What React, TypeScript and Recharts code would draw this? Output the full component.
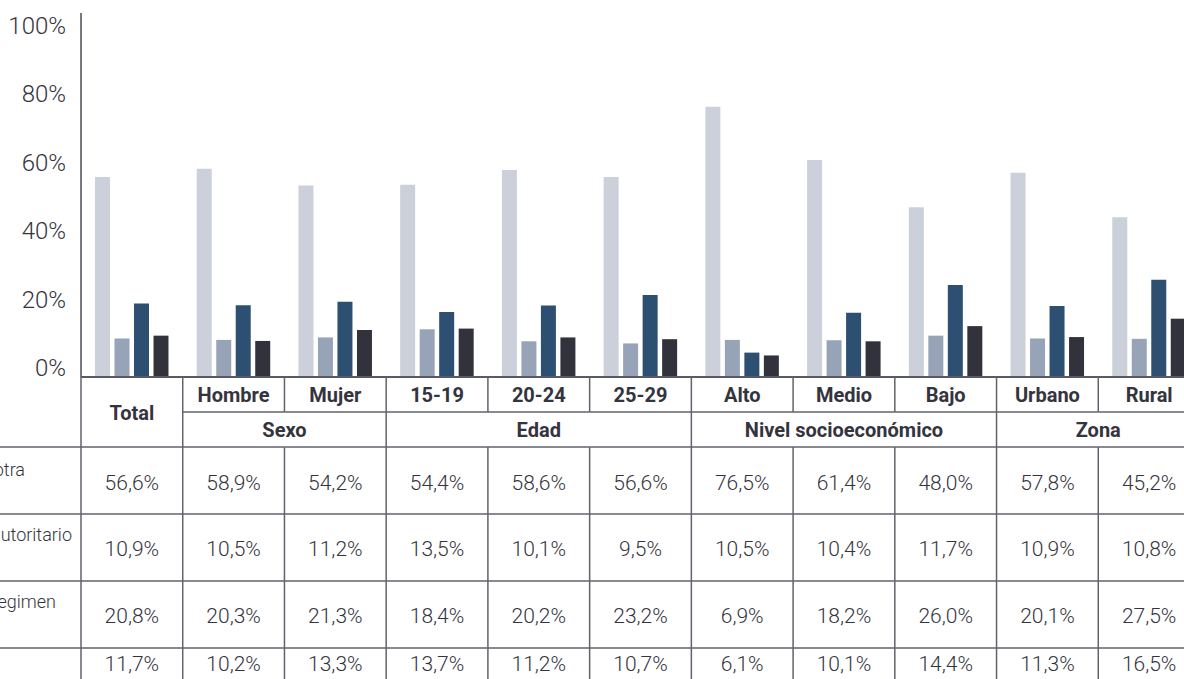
import { BarChart, Bar, XAxis, YAxis } from "recharts";

const categories = ["Total", "Hombre", "Mujer", "15-19", "20-24", "25-29", "Alto", "Medio", "Bajo", "Urbano", "Rural"];
const groups = ["", "Sexo", "Sexo", "Edad", "Edad", "Edad", "Nivel socioeconómico", "Nivel socioeconómico", "Nivel socioeconómico", "Zona", "Zona"];

const rowLabels = [
  "La democracia es preferible a cualquier otra",
  "En algunas circunstancias, un gobierno autoritario",
  "A la gente como uno, nos da lo mismo un regimen",
  "",
];

const democracia = [56.6, 58.9, 54.2, 54.4, 58.6, 56.6, 76.5, 61.4, 48.0, 57.8, 45.2];
const autoritario = [10.9, 10.5, 11.2, 13.5, 10.1, 9.5, 10.5, 10.4, 11.7, 10.9, 10.8];
const daLoMismo = [20.8, 20.3, 21.3, 18.4, 20.2, 23.2, 6.9, 18.2, 26.0, 20.1, 27.5];
const nsnr = [11.7, 10.2, 13.3, 13.7, 11.2, 10.7, 6.1, 10.1, 14.4, 11.3, 16.5];

const yTicks = [0, 20, 40, 60, 80, 100];

const series = [
  { key: "democracia", values: democracia, color: "#cbd0da" },
  { key: "autoritario", values: autoritario, color: "#97a3b6" },
  { key: "daLoMismo", values: daLoMismo, color: "#2d4f71" },
  { key: "nsnr", values: nsnr, color: "#32323c" },
];

const data = categories.map((name, i) => ({
  name,
  democracia: democracia[i],
  autoritario: autoritario[i],
  daLoMismo: daLoMismo[i],
  nsnr: nsnr[i],
}));

const CHART_W = 1200;
const CHART_H = 700;
const Y_W = 81;
const BAND = (CHART_W - Y_W) / categories.length;
const LINE = "#62626c";
const TEXT = "#34343e";
const FONT = "Roboto, sans-serif";

const fmt = (v: number) => v.toFixed(1).replace(".", ",") + "%";

// y offsets (from the x axis line) of the table rows
const ROW1 = 35;
const ROW2 = 70;
const dataRowTops = [70, 137, 204, 271];
const valueCenters = [106, 172, 239, 287];
const labelCenters = [92, 157, 224];
const labelEnds = [25, 72, 56];

function TableColumn(props: any) {
  const { x, y, payload } = props;
  const i: number = payload.index;
  const left = x - BAND / 2;
  const right = x + BAND / 2;
  const groupStart = i === 0 || groups[i] !== groups[i - 1];
  const span = groups.filter((g) => g === groups[i]).length;

  return (
    <g>
      {/* vertical borders */}
      <line x1={left} y1={y} x2={left} y2={y + ROW1} stroke={LINE} strokeWidth={1.5} />
      {groupStart && <line x1={left} y1={y + ROW1} x2={left} y2={y + ROW2} stroke={LINE} strokeWidth={1.5} />}
      <line x1={left} y1={y + ROW2} x2={left} y2={CHART_H} stroke={LINE} strokeWidth={1.5} />

      {/* horizontal borders */}
      {i !== 0 && <line x1={left} y1={y + ROW1} x2={right} y2={y + ROW1} stroke={LINE} strokeWidth={1.5} />}
      {dataRowTops.map((t) => (
        <line key={t} x1={i === 0 ? 0 : left} y1={y + t} x2={right} y2={y + t} stroke={LINE} strokeWidth={1.5} />
      ))}

      {/* headers */}
      <text
        x={x}
        y={y + (i === 0 ? 36 : 18)}
        textAnchor="middle"
        dominantBaseline="central"
        fontFamily={FONT}
        fontWeight={700}
        fontSize={20}
        fill={TEXT}
      >
        {payload.value}
      </text>
      {i !== 0 && groupStart && (
        <text x={left + (span * BAND) / 2} y={y + 53} textAnchor="middle" dominantBaseline="central" fontFamily={FONT} fontWeight={700} fontSize={20} fill={TEXT}>
          {groups[i]}
        </text>
      )}

      {/* values */}
      {series.map((s, r) => (
        <text key={s.key} x={x} y={y + valueCenters[r]} textAnchor="middle" dominantBaseline="central" fontFamily={FONT} fontWeight={300} fontSize={21} fill={TEXT}>
          {fmt(s.values[i])}
        </text>
      ))}

      {/* row labels, cut off at the left edge like in the original */}
      {i === 0 &&
        labelCenters.map((c, r) => (
          <text key={r} x={labelEnds[r]} y={y + c} textAnchor="end" dominantBaseline="central" fontFamily={FONT} fontWeight={300} fontSize={18} fill={TEXT}>
            {rowLabels[r]}
          </text>
        ))}
    </g>
  );
}

function YTick(props: any) {
  const { x, y, payload } = props;
  // labels sit slightly tighter than the gridline spacing
  const dy = payload.value * 0.114 - 9;
  return (
    <text x={x} y={y + dy} textAnchor="end" dominantBaseline="central" fontFamily={FONT} fontWeight={300} fontSize={24} fill={TEXT}>
      {payload.value}%
    </text>
  );
}

export default function App() {
  return (
    <div style={{ position: "absolute", left: 0, top: 0, width: 1184, height: 679, overflow: "hidden", background: "#fff" }}>
      <BarChart
        width={CHART_W}
        height={CHART_H}
        data={data}
        margin={{ top: 13, right: 0, bottom: 0, left: 0 }}
        barSize={15}
        barGap={4.5}
      >
        <YAxis
          width={Y_W}
          domain={[0, 103]}
          ticks={yTicks}
          allowDataOverflow
          tickLine={false}
          tickSize={0}
          tickMargin={15}
          axisLine={{ stroke: "#4a4a55", strokeWidth: 1.5 }}
          tick={YTick}
        />
        <XAxis
          dataKey="name"
          height={CHART_H - 13 - 364}
          interval={0}
          tickLine={false}
          tickSize={0}
          tickMargin={0}
          axisLine={{ stroke: "#5a5a64", strokeWidth: 2 }}
          tick={TableColumn}
        />
        {series.map((s) => (
          <Bar key={s.key} dataKey={s.key} fill={s.color} isAnimationActive={false} />
        ))}
      </BarChart>
    </div>
  );
}
